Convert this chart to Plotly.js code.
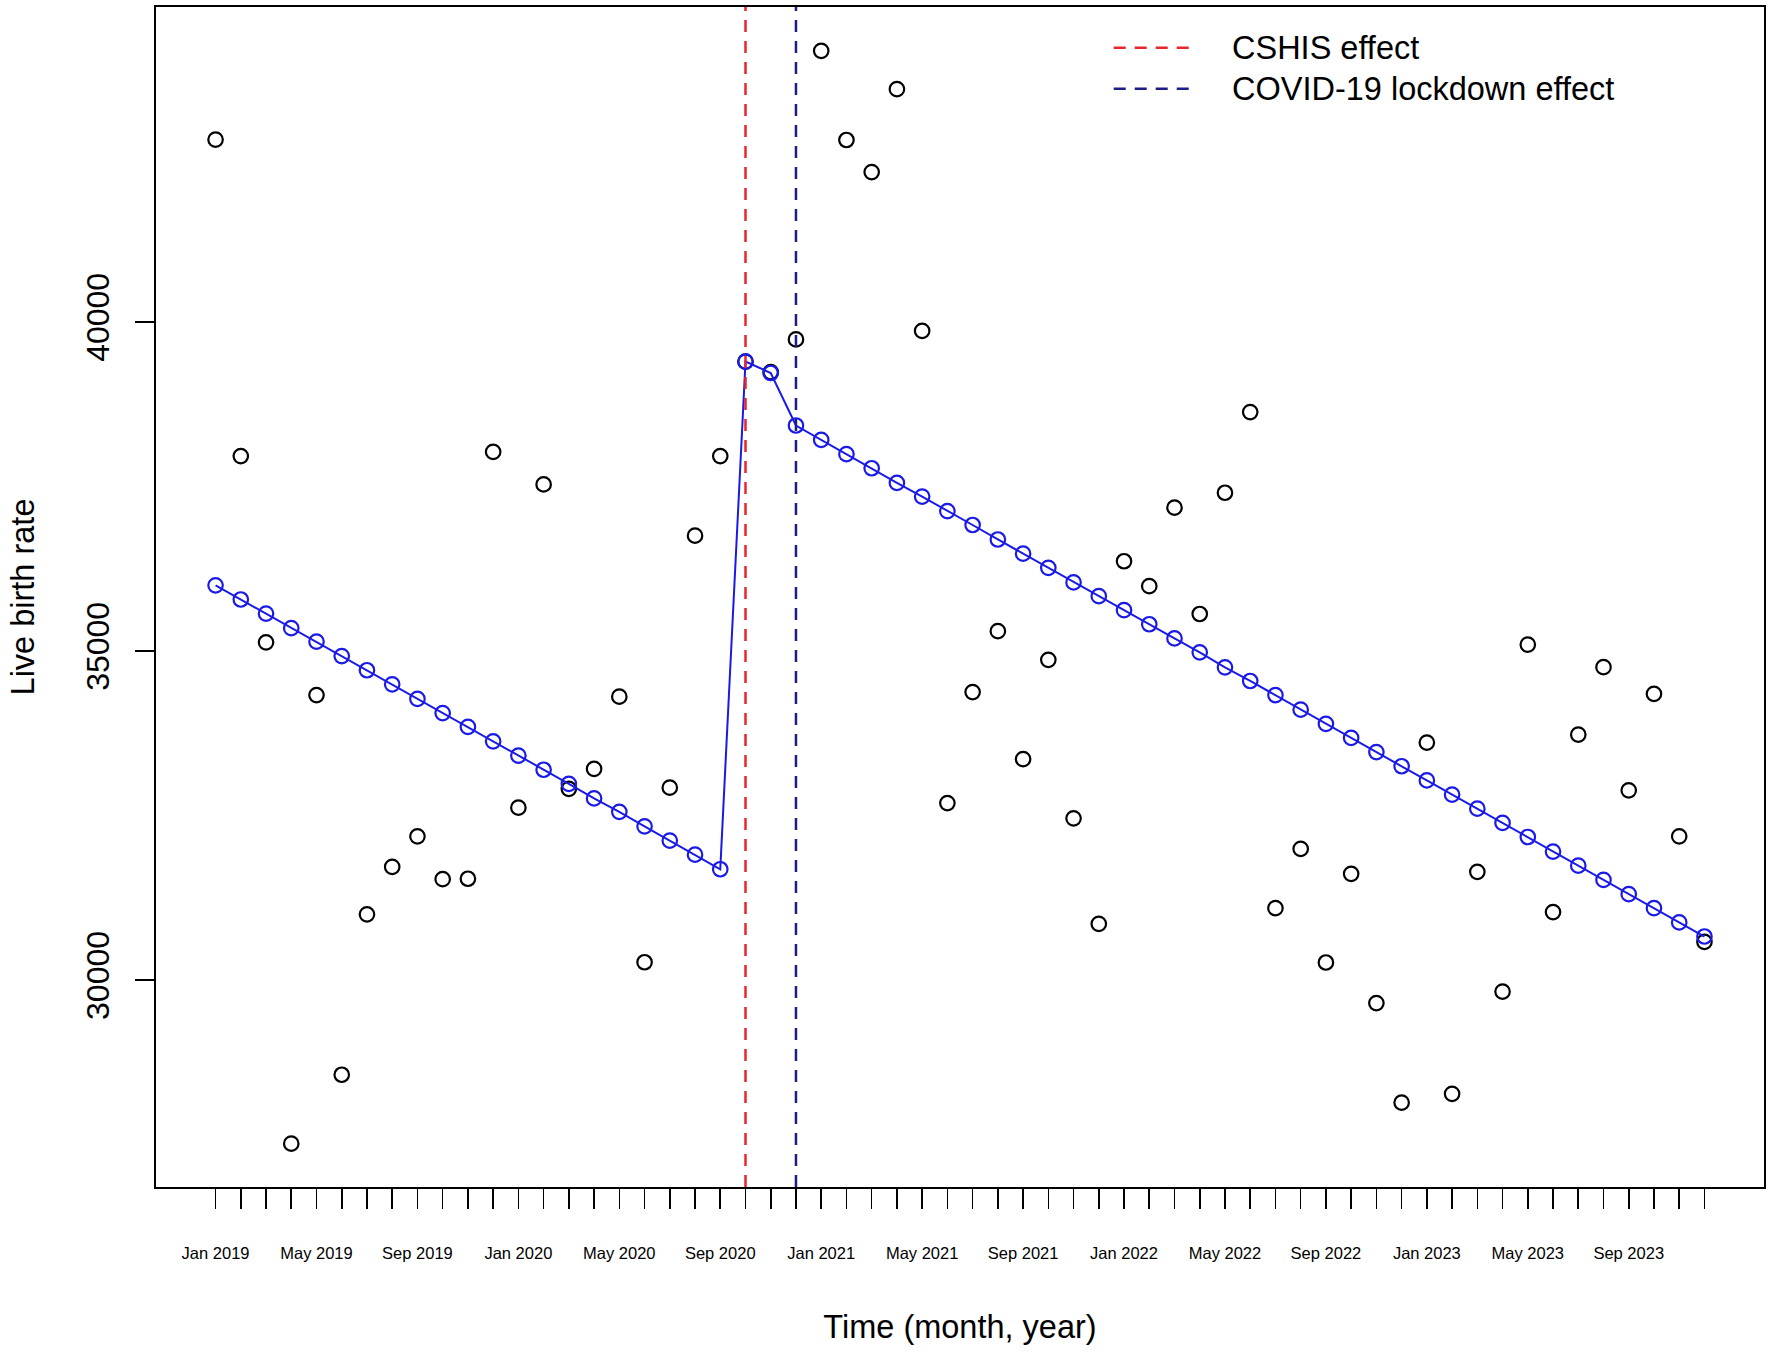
<!DOCTYPE html>
<html>
<head>
<meta charset="utf-8">
<script src="https://cdn.plot.ly/plotly-3.0.1.min.js"></script>
<style>
  html, body { margin: 0; padding: 0; background: #fff; }
  #chart { width: 1772px; height: 1352px; }
</style>
</head>
<body>
<div id="chart"></div>
<script>
// months Jan 2019 .. Dec 2023
var monthNames = ['Jan','Feb','Mar','Apr','May','Jun','Jul','Aug','Sep','Oct','Nov','Dec'];
var years = [2019, 2020, 2021, 2022, 2023];

// observed live births per month
var observed = [
  42773, 37964, 35135, 27517, 34333, 28564, 31001, 31721, 32186, 31536, 31542, 38028,
  32622, 37534, 32908, 33210, 34309, 30273, 32925, 36755, 37964, 39400, 39240, 39737,
  44122, 42767, 42279, 43540, 39866, 32692, 34379, 35304, 33361, 34868, 32460, 30855,
  36366, 35988, 37180, 35565, 37407, 38633, 31094, 31995, 30269, 31616, 29652, 28141,
  33611, 28274, 31647, 29827, 35100, 31036, 33733, 34757, 32885, 34350, 32186, 30582
];

// fitted segmented regression
var fitted = [
  36000, 35785, 35571, 35349, 35146, 34926, 34710, 34496, 34274, 34060, 33850, 33630,
  33414, 33198, 32984, 32762, 32558, 32338, 32122, 31908, 31686, 39400, 39227, 38429,
  38209, 37993, 37779, 37557, 37349, 37127, 36917, 36697, 36481, 36267, 36045, 35835,
  35623, 35409, 35193, 34983, 34754, 34547, 34333, 34111, 33896, 33681, 33466, 33251,
  33036, 32821, 32606, 32390, 32176, 31954, 31740, 31524, 31308, 31094, 30878, 30664
];

// intervention months (index into the series)
var effectNames = ['CSHIS effect', 'COVID-19 lockdown effect'];
var effectMonths = [21, 23];
var effectColors = ['#e8262b', '#1d1d86'];

var yTicks = [30000, 35000, 40000];

var idx = [], tickText = [];
years.forEach(function (yr) {
  monthNames.forEach(function (m, k) {
    idx.push(idx.length);
    tickText.push(k % 4 === 0 ? m + ' ' + yr : '');
  });
});

var obsTrace = {
  x: idx, y: observed,
  type: 'scatter', mode: 'markers',
  marker: { symbol: 'circle-open', size: 14.5, color: '#000000', line: { width: 2.2 } },
  showlegend: false
};

var fitTrace = {
  x: idx, y: fitted,
  type: 'scatter', mode: 'lines+markers',
  line: { color: '#1a1ae8', width: 2 },
  marker: { symbol: 'circle-open', size: 14.5, color: '#1a1ae8', line: { width: 2.2 } },
  showlegend: false
};

var dash = '12px,9px';
var shapes = [];
var annotations = [];
effectMonths.forEach(function (m, i) {
  shapes.push({
    type: 'line', xref: 'x', yref: 'paper', x0: m, x1: m, y0: 0, y1: 1,
    line: { color: effectColors[i], width: 2.5, dash: dash }
  });
  // legend key, top right
  var ly = 0.9654 - i * 0.0347;
  shapes.push({
    type: 'line', xref: 'paper', yref: 'paper', x0: 0.5956, x1: 0.6445, y0: ly, y1: ly,
    line: { color: effectColors[i], width: 2.5, dash: dash }
  });
  annotations.push({
    xref: 'paper', yref: 'paper', x: 0.6680, y: ly, xanchor: 'left', yanchor: 'middle',
    text: effectNames[i], showarrow: false, font: { size: 32.5, color: '#000' }
  });
});

var layout = {
  width: 1772, height: 1352,
  margin: { l: 156, r: 8, t: 7, b: 165, pad: 0 },
  paper_bgcolor: '#ffffff', plot_bgcolor: '#ffffff',
  font: { family: '"Liberation Sans", Arial, sans-serif', color: '#000000' },
  showlegend: false,
  xaxis: {
    range: [-2.36, 61.36],
    showgrid: false, zeroline: false,
    showline: true, mirror: true, linecolor: '#000', linewidth: 1.6,
    ticks: 'outside', ticklen: 20, tickwidth: 1.6, tickcolor: '#000',
    tickmode: 'array', tickvals: idx, ticktext: tickText,
    tickfont: { size: 16.5 }, ticklabelstandoff: 31,
    title: { text: 'Time (month, year)', font: { size: 32.5 }, standoff: 54 }
  },
  yaxis: {
    range: [26858, 44788],
    showgrid: false, zeroline: false,
    showline: true, mirror: true, linecolor: '#000', linewidth: 1.6,
    ticks: 'outside', ticklen: 19, tickwidth: 1.6, tickcolor: '#000',
    tickmode: 'array', tickvals: yTicks, ticktext: yTicks.map(String),
    tickangle: -90, tickfont: { size: 32 }, ticklabelstandoff: 14,
    title: { text: 'Live birth rate', font: { size: 32.5 }, standoff: 35 }
  },
  shapes: shapes,
  annotations: annotations
};

Plotly.newPlot('chart', [obsTrace, fitTrace], layout, { displayModeBar: false, staticPlot: true });
</script>
</body>
</html>
